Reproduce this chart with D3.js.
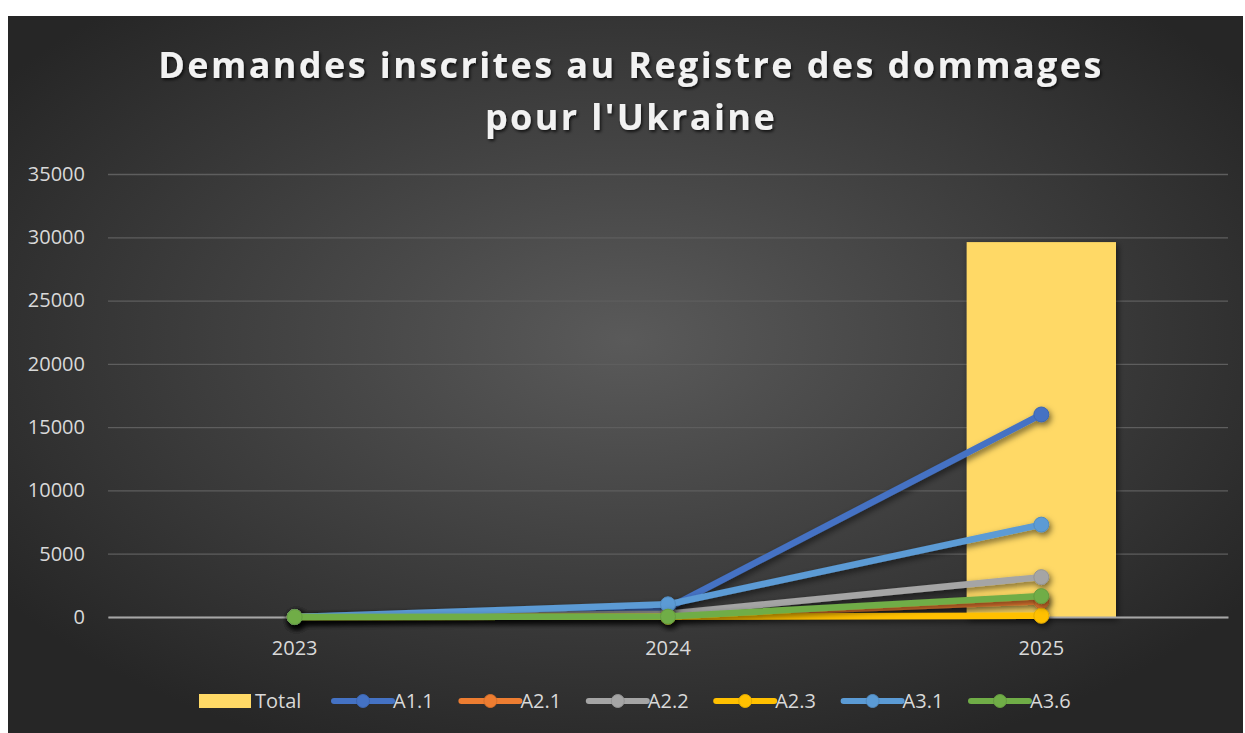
<!DOCTYPE html>
<html>
<head>
<meta charset="utf-8">
<script src="https://cdn.jsdelivr.net/npm/d3@7"></script>
<style>
  body { margin: 0; background: #ffffff; }
  svg { display: block; }
</style>
</head>
<body>
<script>
// data
var YEARS = ["2023", "2024", "2025"];
var TOTAL = [null, null, 29620];
var A1_1 = [0, 700, 16000];
var A2_1 = [0, 50, 1250];
var A2_2 = [0, 250, 3150];
var A2_3 = [0, 20, 100];
var A3_1 = [0, 1000, 7300];
var A3_6 = [0, 30, 1650];
var SERIES_NAMES = ["A1.1", "A2.1", "A2.2", "A2.3", "A3.1", "A3.6"];
var Y_TICKS = [0, 5000, 10000, 15000, 20000, 25000, 30000, 35000];

var SERIES = [A1_1, A2_1, A2_2, A2_3, A3_1, A3_6];
var COLORS = ["#4472c4", "#ed7d31", "#a5a5a5", "#ffc000", "#5b9bd5", "#70ad47"];
var MARGINS = {top: 174, bottom: 617, left: 108, right: 1228};

// svg
var svg = d3.select("body").append("svg");
svg.attr("width", 1245).attr("height", 733);

var defs = svg.append("defs");
var grad = defs.append("radialGradient").attr("id", "bg")
    .attr("cx", "50%").attr("cy", "45%").attr("r", "62%");
grad.append("stop").attr("offset", "0%").attr("stop-color", "#5a5a5a");
grad.append("stop").attr("offset", "100%").attr("stop-color", "#262626");

var shadow = defs.append("filter").attr("id", "shadow")
    .attr("x", "-20%").attr("y", "-20%").attr("width", "140%").attr("height", "160%");
shadow.append("feDropShadow").attr("dx", 2).attr("dy", 3)
    .attr("stdDeviation", 3).attr("flood-color", "#000").attr("flood-opacity", 0.55);

var tshadow = defs.append("filter").attr("id", "tshadow");
tshadow.append("feDropShadow").attr("dx", 1.5).attr("dy", 2)
    .attr("stdDeviation", 1.5).attr("flood-color", "#000").attr("flood-opacity", 0.7);

// panel
svg.append("rect").attr("x", 8).attr("y", 16).attr("width", 1235).attr("height", 720)
    .attr("fill", "url(#bg)");

// title
var title = svg.append("text").attr("text-anchor", "middle")
    .attr("font-family", "Open Sans").attr("font-weight", "bold").attr("font-size", 36)
    .attr("letter-spacing", 2.4).attr("fill", "#f2f2f2").attr("filter", "url(#tshadow)");
title.append("tspan").attr("x", 631).attr("y", 78).text("Demandes inscrites au Registre des dommages");
title.append("tspan").attr("x", 631).attr("y", 130).text("pour l'Ukraine");

// scales
var xScale = d3.scaleBand().domain(YEARS).range([MARGINS.left, MARGINS.right]);
var yScale = d3.scaleLinear().domain([0, 35000]).range([MARGINS.bottom, MARGINS.top]);

// y axis + grid
var yAxis = d3.axisLeft(yScale).tickValues(Y_TICKS).tickSize(-(MARGINS.right - MARGINS.left))
    .tickPadding(23).tickFormat(d3.format("d"));
var gy = svg.append("g").attr("class", "y axis")
    .attr("transform", "translate(" + MARGINS.left + ",0)").call(yAxis);
gy.select(".domain").remove();
gy.selectAll("line").attr("stroke", "#5e5e5e").attr("stroke-width", 1.3);
gy.selectAll("text").attr("fill", "#d9d9d9").attr("font-family", "Open Sans").attr("font-size", 20);

// total bar
var barW = xScale.bandwidth() * 0.4;
svg.selectAll(".bar").data(YEARS.map(function (d, i) { return [d, TOTAL[i]]; })
    .filter(function (d) { return d[1] != null; }))
    .enter().append("rect").attr("class", "bar")
    .attr("x", function (d) { return xScale(d[0]) + xScale.bandwidth() / 2 - barW / 2; })
    .attr("y", function (d) { return yScale(d[1]); })
    .attr("width", barW)
    .attr("height", function (d) { return yScale(0) - yScale(d[1]); })
    .attr("fill", "#ffd966")
    .attr("filter", "url(#shadow)");

// x axis
var xAxis = d3.axisBottom(xScale).tickSize(0).tickPadding(24);
var gx = svg.append("g").attr("class", "x axis")
    .attr("transform", "translate(0," + MARGINS.bottom + ")").call(xAxis);
gx.select(".domain").attr("stroke", "#a6a6a6").attr("stroke-width", 1.8);
gx.selectAll("text").attr("fill", "#d9d9d9").attr("font-family", "Open Sans").attr("font-size", 20);

// lines
var cx = function (i) { return xScale(YEARS[i]) + xScale.bandwidth() / 2; };
var line = d3.line()
    .x(function (d, i) { return cx(i); })
    .y(function (d) { return yScale(d); });

SERIES.forEach(function (s, k) {
    var g = svg.append("g").attr("filter", "url(#shadow)");
    g.append("path").datum(s)
        .attr("d", line)
        .attr("fill", "none")
        .attr("stroke", COLORS[k])
        .attr("stroke-width", 6.5)
        .attr("stroke-linecap", "round")
        .attr("stroke-linejoin", "round");
    g.selectAll("circle").data(s).enter().append("circle")
        .attr("cx", function (d, i) { return cx(i); })
        .attr("cy", function (d) { return yScale(d); })
        .attr("r", 7.5)
        .attr("fill", COLORS[k])
        .attr("stroke", d3.color(COLORS[k]).darker(0.3))
        .attr("stroke-width", 1);
});

// legend
var legend = svg.append("g").attr("class", "legend");
legend.append("rect").attr("x", 199).attr("y", 694).attr("width", 52).attr("height", 14)
    .attr("fill", "#ffd966");
legend.append("text").attr("x", 255).attr("y", 701).attr("dy", "0.35em")
    .attr("fill", "#d9d9d9").attr("font-family", "Open Sans").attr("font-size", 20)
    .text("Total");

var items = legend.selectAll(".item").data(SERIES_NAMES).enter().append("g")
    .attr("class", "item")
    .attr("transform", function (d, i) { return "translate(" + (334 + i * 127.4) + ",701)"; });
items.append("line").attr("x1", 0).attr("x2", 58).attr("y1", 0).attr("y2", 0)
    .attr("stroke", function (d, i) { return COLORS[i]; })
    .attr("stroke-width", 6).attr("stroke-linecap", "round");
items.append("circle").attr("cx", 29).attr("cy", 0).attr("r", 6.5)
    .attr("fill", function (d, i) { return COLORS[i]; })
    .attr("stroke", function (d, i) { return d3.color(COLORS[i]).darker(0.3); });
items.append("text").attr("x", 59).attr("dy", "0.35em")
    .attr("fill", "#d9d9d9").attr("font-family", "Open Sans").attr("font-size", 20)
    .text(function (d) { return d; });
</script>
</body>
</html>
